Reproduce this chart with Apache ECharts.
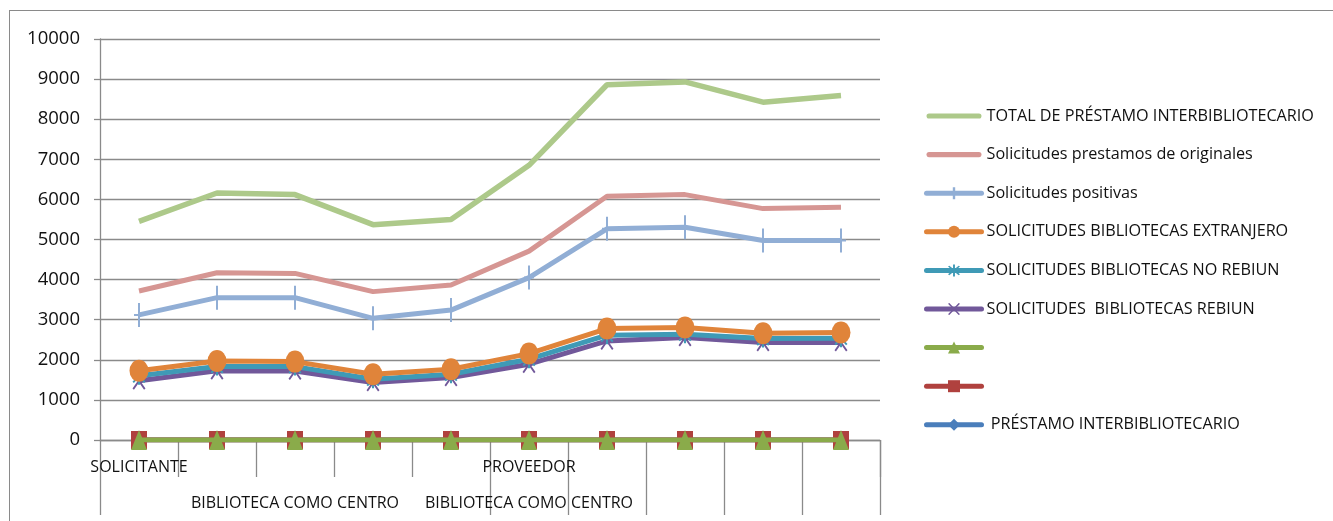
<!DOCTYPE html>
<html>
<head>
<meta charset="utf-8">
<script src="https://cdn.jsdelivr.net/npm/echarts@6/dist/echarts.min.js"></script>
<style>
html,body{margin:0;padding:0;background:#fff;}
#frame{position:absolute;left:9px;top:10px;width:1340px;height:530px;border-left:1px solid #8a8a8a;border-top:1px solid #8a8a8a;}
#chart{position:absolute;left:0;top:0;width:1333px;height:521px;}
</style>
</head>
<body>
<div id="frame"></div>
<div id="chart"></div>
<script>
var categories = ['SOLICITANTE', '', '\nBIBLIOTECA COMO CENTRO', '', '', 'PROVEEDOR\nBIBLIOTECA COMO CENTRO', '', '', '', ''];
var yTicks = [0, 1000, 2000, 3000, 4000, 5000, 6000, 7000, 8000, 9000, 10000];

var seriesNames = [
  'TOTAL DE PRÉSTAMO INTERBIBLIOTECARIO',
  'Solicitudes prestamos de originales',
  'Solicitudes positivas',
  'SOLICITUDES BIBLIOTECAS EXTRANJERO',
  'SOLICITUDES BIBLIOTECAS NO REBIUN',
  'SOLICITUDES  BIBLIOTECAS REBIUN',
  ' ',
  '  ',
  ' PRÉSTAMO INTERBIBLIOTECARIO'
];

var total      = [5450, 6160, 6120, 5370, 5500, 6850, 8860, 8930, 8425, 8590];
var originales = [3715, 4170, 4155, 3700, 3865, 4710, 6080, 6120, 5770, 5805];
var positivas  = [3120, 3550, 3550, 3035, 3240, 4050, 5265, 5305, 4975, 4975];
var extranjero = [1725, 1970, 1955, 1640, 1765, 2155, 2780, 2805, 2660, 2680];
var noRebiun   = [1600, 1835, 1830, 1515, 1640, 2015, 2615, 2640, 2530, 2540];
var rebiun     = [1475, 1725, 1720, 1435, 1560, 1890, 2470, 2555, 2430, 2430];
var serieG     = [0, 0, 0, 0, 0, 0, 0, 0, 0, 0];
var serieR     = [0, 0, 0, 0, 0, 0, 0, 0, 0, 0];
var prestamo   = [0, 0, 0, 0, 0, 0, 0, 0, 0, 0];

var FONT = 'Open Sans';
var GRAY = '#8a8a8a';

var plusPath = 'path://M4,0h2v24h-2z M0,11h10v2h-10z';
var starPath = 'path://M6,0h2v20h-2z M0.7,3.5L2.1,2.1L13.3,16.5L11.9,17.9z M11.9,2.1L13.3,3.5L2.1,17.9L0.7,16.5z';
var xPath = 'path://M0.7,1.5L2.1,0.1L13.3,18.5L11.9,19.9z M11.9,0.1L13.3,1.5L2.1,19.9L0.7,18.5z';
var barIcon = 'path://M2.5,0h49a2.5,2.5 0 0 1 0,5h-49a2.5,2.5 0 0 1 0,-5z';

var colors = ['#ADC98A', '#D69693', '#91AED5', '#E0843A', '#3F9AB6', '#71589A', '#8AAB4A', '#B0413E', '#4A7EBB'];

function mk(name, data, color, width, symbol, size, z) {
  return {
    name: name, type: 'line', data: data, z: z,
    symbol: symbol, symbolSize: size, showSymbol: symbol !== 'none',
    lineStyle: {color: color, width: width},
    itemStyle: {color: color},
    emphasis: {disabled: true},
    animation: false
  };
}

var legendData = seriesNames.map(function (n, i) {
  return i < 2 ? {name: n, icon: barIcon} : {name: n};
});

var chart = echarts.init(document.getElementById('chart'), null, {renderer: 'canvas'});
chart.setOption({
  backgroundColor: 'transparent',
  animation: false,
  grid: {left: 100, top: 39, width: 780, height: 402, containLabel: false},
  legend: {
    orient: 'vertical', left: 919, top: 101,
    itemWidth: 55, itemHeight: 15, itemGap: 18.6,
    lineStyle: {width: 5, cap: 'round'},
    textStyle: {fontFamily: FONT, fontSize: 16.2, color: '#111', lineHeight: 20},
    data: legendData,
    selectedMode: false
  },
  xAxis: [{
    type: 'category', data: categories, position: 'bottom', boundaryGap: true,
    axisLine: {lineStyle: {color: GRAY, width: 1.3}},
    axisTick: {show: true, length: 75, lineStyle: {color: GRAY, width: 1.3},
      interval: function (i) { return i === 0 || i >= 5; }},
    axisLabel: {interval: 0, margin: 9, fontFamily: FONT, fontSize: 16, color: '#111', lineHeight: 36}
  }, {
    type: 'category', data: categories, position: 'bottom', boundaryGap: true,
    axisLine: {show: false},
    axisTick: {show: true, length: 37, lineStyle: {color: GRAY, width: 1.3},
      interval: function (i) { return i >= 1 && i <= 4; }},
    axisLabel: {show: false}
  }],
  yAxis: {
    type: 'value', min: yTicks[0], max: yTicks[yTicks.length - 1], interval: 1000,
    axisLine: {show: true, lineStyle: {color: GRAY, width: 1.3}},
    axisTick: {show: true, length: 6, lineStyle: {color: GRAY, width: 1.3}},
    axisLabel: {margin: 20, fontFamily: FONT, fontSize: 18.5, color: '#111',
      formatter: function (v) { return String(v); }},
    splitLine: {lineStyle: {color: GRAY, width: 1.3}}
  },
  series: [
    mk(seriesNames[8], prestamo, colors[8], 5, 'diamond', [12, 14], 2),
    mk(seriesNames[7], serieR, colors[7], 5, 'rect', [16, 18], 3),
    mk(seriesNames[6], serieG, colors[6], 5, 'triangle', [16, 20], 4),
    mk(seriesNames[5], rebiun, colors[5], 5, xPath, [13, 18], 5),
    mk(seriesNames[4], noRebiun, colors[4], 5, starPath, [13, 18], 6),
    mk(seriesNames[3], extranjero, colors[3], 5, 'circle', [19, 22], 7),
    mk(seriesNames[2], positivas, colors[2], 5, plusPath, [10, 24], 8),
    mk(seriesNames[1], originales, colors[1], 5, 'none', 0, 9),
    mk(seriesNames[0], total, colors[0], 5.5, 'none', 0, 10)
  ]
});
</script>
</body>
</html>
